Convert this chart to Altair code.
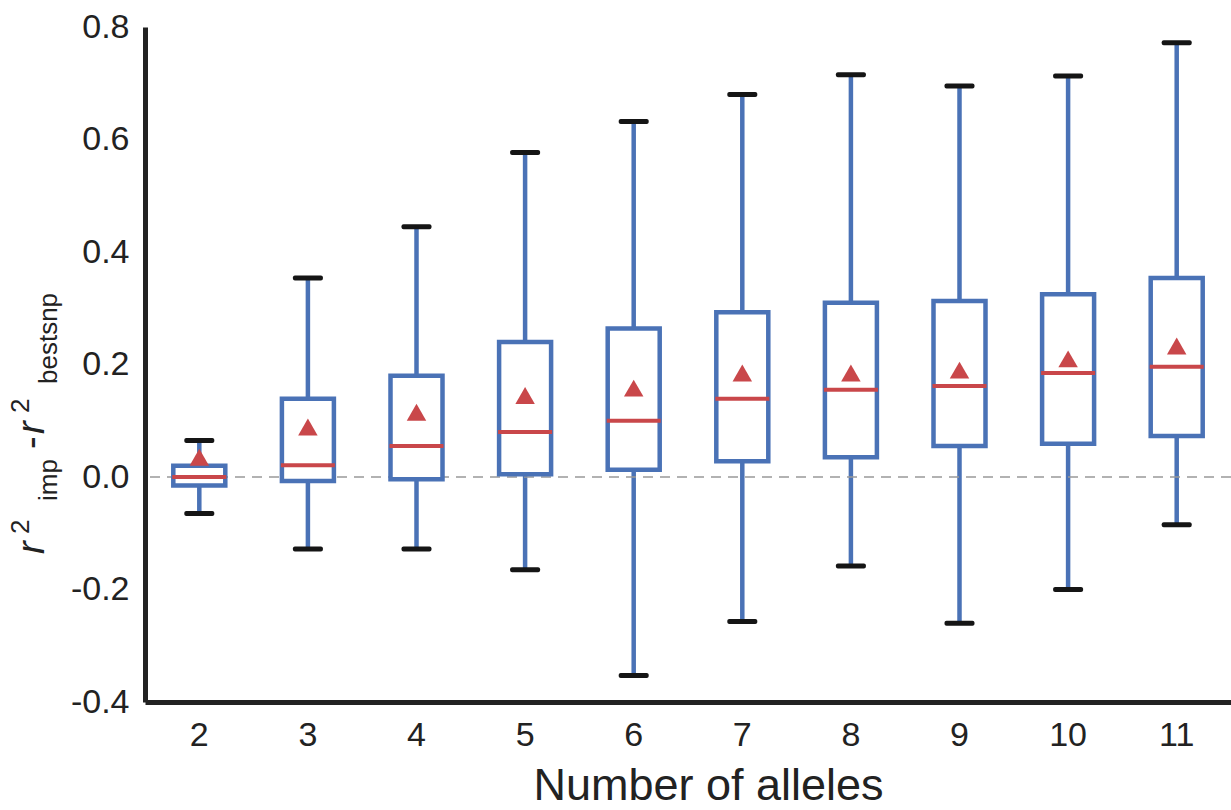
import altair as alt
import pandas as pd

# ---- data ----
alleles = [2, 3, 4, 5, 6, 7, 8, 9, 10, 11]
whisker_low = [-0.065, -0.128, -0.128, -0.165, -0.353, -0.257, -0.158, -0.26, -0.2, -0.085]
q1 = [-0.015, -0.007, -0.004, 0.005, 0.013, 0.028, 0.035, 0.055, 0.059, 0.073]
median = [0.0, 0.021, 0.055, 0.08, 0.10, 0.139, 0.155, 0.162, 0.185, 0.196]
q3 = [0.02, 0.139, 0.18, 0.24, 0.264, 0.293, 0.31, 0.313, 0.325, 0.354]
whisker_high = [0.065, 0.354, 0.445, 0.577, 0.632, 0.68, 0.715, 0.695, 0.713, 0.772]
mean = [0.035, 0.089, 0.115, 0.145, 0.158, 0.185, 0.185, 0.19, 0.21, 0.233]
y_ticks = [-0.4, -0.2, 0.0, 0.2, 0.4, 0.6, 0.8]
x_title = "Number of alleles"
y_title_parts = ["r", "2", "imp", "-", "r", "2", "bestsnp"]

df = pd.DataFrame({
    "alleles": alleles, "low": whisker_low, "q1": q1, "median": median,
    "q3": q3, "high": whisker_high, "mean": mean,
})

BLUE = "#4a72b6"
RED = "#c9474a"
FONT = "Liberation Sans"

xaxis = alt.Axis(title=x_title, labelAngle=0, ticks=False, grid=False, labelFontSize=34,
                 labelPadding=16, labelColor="#222", domainColor="#222",
                 domainWidth=5, titleFontSize=45, titleFontWeight="normal",
                 titleColor="#222", titleX=563, titleY=97,
                 titleBaseline="alphabetic")
xscale = alt.Scale(paddingInner=0, paddingOuter=0)
xenc = alt.X("alleles:O", scale=xscale, axis=xaxis)
yscale = alt.Scale(domain=[-0.4, 0.8], nice=False, zero=False)
yaxis = alt.Axis(title=None, values=y_ticks, ticks=False, grid=False,
                 labelExpr="replace(format(datum.value, '.1f'), '\u2212', '-')",
                 labelFontSize=34, labelPadding=16, labelColor="#222",
                 domainColor="#222", domainWidth=5)

base = alt.Chart(df)

whiskers = base.mark_rule(color=BLUE, strokeWidth=4.5).encode(
    x=xenc, y=alt.Y("low:Q", scale=yscale, axis=yaxis), y2="high:Q")

zero_line = alt.Chart(pd.DataFrame({"z": [0.0]})).mark_rule(
    color="#999999", strokeWidth=1.5, strokeDash=[10, 7]
).encode(y=alt.Y("z:Q", scale=yscale, axis=yaxis))

caps_hi = base.mark_tick(color="#151515", size=30, thickness=5, cornerRadius=2,
                         opacity=1).encode(x=xenc, y=alt.Y("high:Q", scale=yscale, axis=yaxis))
caps_lo = base.mark_tick(color="#151515", size=30, thickness=5, cornerRadius=2,
                         opacity=1).encode(x=xenc, y=alt.Y("low:Q", scale=yscale, axis=yaxis))

boxes = base.mark_bar(fill="white", stroke=BLUE, strokeWidth=4.5, size=52).encode(
    x=xenc, y=alt.Y("q1:Q", scale=yscale, axis=yaxis), y2="q3:Q")

medians = base.mark_tick(color=RED, size=54, thickness=4, opacity=1).encode(
    x=xenc, y=alt.Y("median:Q", scale=yscale, axis=yaxis))

means = base.mark_point(shape="triangle-up", filled=True, color=RED, opacity=1,
                        size=380).encode(x=xenc, y=alt.Y("mean:Q", scale=yscale, axis=yaxis))

# y-axis title assembled from pieces (superscripts / subscripts)
# (text, x px, y px, size, italic)
title_specs = [
    (y_title_parts[0], -101, 527, 38, True),
    (y_title_parts[1], -116, 507, 26, False),
    (y_title_parts[2], -88, 474, 26, False),
    (y_title_parts[3], -101, 422, 38, False),
    (y_title_parts[4], -101, 407, 38, True),
    (y_title_parts[5], -116, 386, 26, False),
    (y_title_parts[6], -88, 357, 26, False),
]
title_layers = []
for txt, px, py, fs, it in title_specs:
    title_layers.append(
        alt.Chart(pd.DataFrame({"t": [txt]})).mark_text(
            angle=270, align="left", baseline="alphabetic", fontSize=fs,
            font=FONT, fontStyle="italic" if it else "normal", color="#222"
        ).encode(text="t:N", x=alt.value(px), y=alt.value(py))
    )

chart = alt.layer(whiskers, zero_line, caps_hi, caps_lo, boxes, medians, means,
                  *title_layers).properties(
    width=1086, height=675,
    padding={"left": 145, "top": 27, "right": 0, "bottom": 108},
    autosize=alt.AutoSizeParams(type="none"),
).configure(font=FONT, background="white").configure_view(
    strokeWidth=0, stroke=None
).configure_axis(grid=False)

chart.save("out.html", embed_options={"renderer": "svg", "actions": False})
